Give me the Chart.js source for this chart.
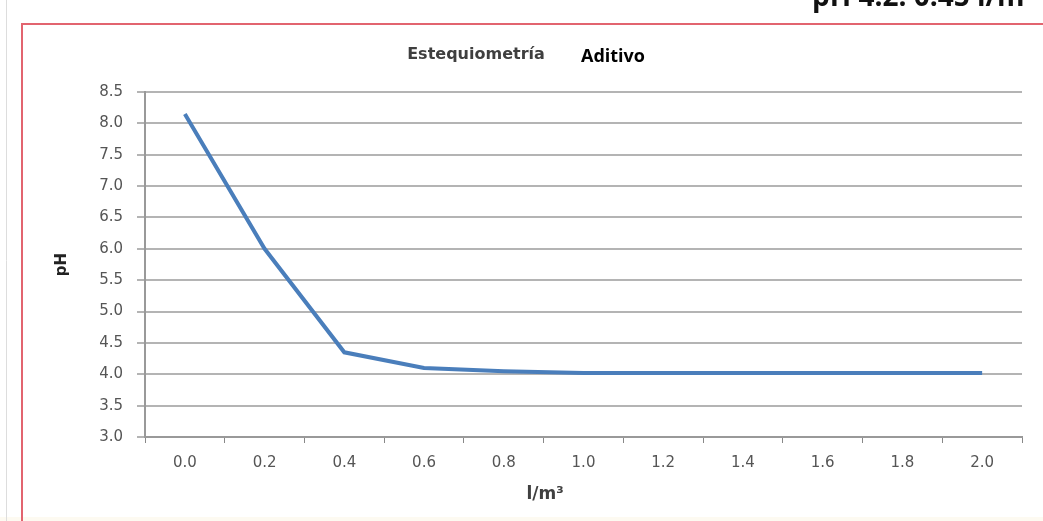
<!DOCTYPE html>
<html>
<head>
<meta charset="utf-8">
<script src="https://cdn.jsdelivr.net/npm/chart.js@4"></script>
<style>
  html, body { margin: 0; padding: 0; background: #ffffff; }
  #wrap { width: 1043px; height: 521px; position: relative; }
</style>
</head>
<body>
<div id="wrap"><canvas id="chartPh" width="1043" height="521"></canvas></div>
<script>
// dosis de aditivo (l/m3) y pH medido
const dosis = ['0.0', '0.2', '0.4', '0.6', '0.8', '1.0', '1.2', '1.4', '1.6', '1.8', '2.0'];
const ph = [8.15, 6.0, 4.35, 4.1, 4.05, 4.02, 4.02, 4.02, 4.02, 4.02, 4.02];
const yMin = 3.0;
const yMax = 8.5;
const yPaso = 0.5;

// marco, titulo y textos sueltos alrededor del grafico
const marco = {
  id: 'marco',
  beforeDraw(chart) {
    const c = chart.ctx;
    c.save();
    c.fillStyle = '#fdfaf1';
    c.fillRect(0, 517, chart.width, 4);
    c.strokeStyle = '#dddddd';
    c.lineWidth = 1;
    c.beginPath();
    c.moveTo(6.5, 0);
    c.lineTo(6.5, chart.height);
    c.stroke();
    c.strokeStyle = '#e2646f';
    c.lineWidth = 2;
    c.beginPath();
    c.moveTo(22, chart.height);
    c.lineTo(22, 24);
    c.lineTo(chart.width, 24);
    c.stroke();
    c.restore();
  },
  afterDraw(chart) {
    const c = chart.ctx;
    c.save();
    c.textBaseline = 'middle';
    c.textAlign = 'center';
    c.fillStyle = '#3f3f3f';
    c.font = 'bold 16px "DejaVu Sans", sans-serif';
    c.fillText('Estequiometría', 476, 55);
    c.fillStyle = '#000000';
    c.font = 'bold 18px "Open Sans", "DejaVu Sans", sans-serif';
    c.fillText('Aditivo', 613, 57);
    // titulo del eje x, algo desplazado a la izquierda
    c.fillStyle = '#404040';
    c.font = 'bold 17px "DejaVu Sans", sans-serif';
    c.fillText('l/m³', 545, 495);
    c.textAlign = 'left';
    c.textBaseline = 'alphabetic';
    c.font = 'bold 28px "Open Sans", sans-serif';
    c.fillStyle = '#111111';
    c.fillText('pH 4.2: 0.45 l/m³', 812, 6);
    c.restore();
  }
};

new Chart(document.getElementById('chartPh').getContext('2d'), {
  type: 'line',
  data: {
    labels: dosis,
    datasets: [{
      label: 'pH',
      data: ph,
      borderColor: '#4a7ebb',
      borderWidth: 4,
      pointRadius: 0,
      tension: 0,
      fill: false
    }]
  },
  options: {
    responsive: false,
    animation: false,
    layout: { padding: { top: 92, right: 21, bottom: 0, left: 0 } },
    plugins: {
      legend: { display: false },
      tooltip: { enabled: false }
    },
    scales: {
      x: {
        offset: true,
        afterFit: s => { s.height = 84; },
        grid: { offset: true, drawOnChartArea: false, tickLength: 6, color: '#888888', lineWidth: 1 },
        border: { color: '#999999', width: 2 },
        ticks: { color: '#555555', padding: 11, maxRotation: 0, font: { family: '"DejaVu Sans", sans-serif', size: 15 } },
        title: { display: false }
      },
      y: {
        min: yMin,
        max: yMax,
        afterFit: s => { s.width = 145; },
        grid: { color: '#b4b4b4', lineWidth: 2, tickLength: 8 },
        border: { color: '#999999', width: 2 },
        ticks: {
          stepSize: yPaso,
          padding: 14,
          color: '#555555',
          font: { family: '"DejaVu Sans", sans-serif', size: 15 },
          callback: v => v.toFixed(1)
        },
        title: {
          display: true,
          text: 'pH',
          color: '#222222',
          padding: { top: 53, bottom: 0 },
          font: { family: '"DejaVu Sans", sans-serif', size: 15, weight: 'bold' }
        }
      }
    }
  },
  plugins: [marco]
});
</script>
</body>
</html>
